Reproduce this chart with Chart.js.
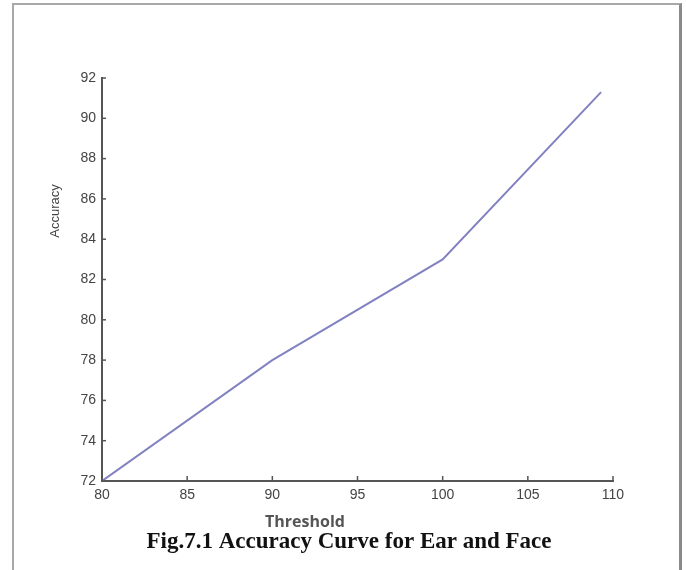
<!DOCTYPE html>
<html>
<head>
<meta charset="utf-8">
<script src="https://cdn.jsdelivr.net/npm/chart.js@4.4.0/dist/chart.umd.min.js"></script>
<style>
  html, body { margin: 0; padding: 0; background: #fff; }
  body { width: 686px; height: 570px; position: relative; overflow: hidden; }
  #frame {
    position: absolute; left: 12px; top: 3px; width: 665px; height: 580px;
    border-top: 2px solid #a8a8a8; border-left: 2px solid #a8a8a8; border-right: 3px solid #8a8a8a;
  }
  #wrap { position: absolute; left: 0; top: 0; width: 686px; height: 570px; }
</style>
</head>
<body>
<div id="frame"></div>
<div id="wrap"><canvas id="acc-chart" width="686" height="570"></canvas></div>
<script>
// threshold vs accuracy
var thresholds = [80, 90, 100, 109.3];
var accuracy = [72, 78, 83, 91.3];

var xTicks = [80, 85, 90, 95, 100, 105, 110];
var yTicks = [72, 74, 76, 78, 80, 82, 84, 86, 88, 90, 92];

var points = thresholds.map(function (t, i) {
  return { x: t, y: accuracy[i] };
});

var tickFont = { family: "'Liberation Sans Narrow', 'Liberation Sans', Arial", size: 14 };

// matlab style inward ticks + the loose text around the axes
var extras = {
  id: "extras",
  afterDraw: function (chart) {
    var c = chart.ctx;
    var xs = chart.scales.x;
    var ys = chart.scales.y;
    var area = chart.chartArea;
    c.save();
    c.strokeStyle = "#555";
    c.lineWidth = 1.5;
    xTicks.forEach(function (v) {
      var px = xs.getPixelForValue(v);
      c.beginPath();
      c.moveTo(px, area.bottom);
      c.lineTo(px, area.bottom - 5);
      c.stroke();
    });
    yTicks.forEach(function (v) {
      var py = ys.getPixelForValue(v);
      c.beginPath();
      c.moveTo(area.left, py);
      c.lineTo(area.left + 4, py);
      c.stroke();
    });

    c.fillStyle = "#444";
    c.font = "13px 'Liberation Sans', Arial";
    c.textAlign = "center";
    c.textBaseline = "middle";
    c.save();
    c.translate(55, 211);
    c.rotate(-Math.PI / 2);
    c.fillText("Accuracy", 0, 0);
    c.restore();

    c.fillStyle = "#555";
    c.font = "bold 16px 'Open Sans', 'Liberation Sans', Arial";
    c.fillText("Threshold", 305, 522);

    c.fillStyle = "#111";
    c.font = "bold 23px 'Liberation Serif', 'Times New Roman', serif";
    c.fillText("Fig.7.1 Accuracy Curve for Ear and Face", 349, 542);
    c.restore();
  }
};

var ctx = document.getElementById("acc-chart");

window.myChart = new Chart(ctx, {
  type: "line",
  data: {
    datasets: [
      {
        label: "Accuracy",
        data: points,
        borderColor: "#8282c2",
        backgroundColor: "#8282c2",
        borderWidth: 2,
        pointRadius: 0,
        tension: 0,
      },
    ],
  },
  options: {
    responsive: false,
    animation: false,
    layout: { padding: { left: 0, top: 78, right: 73, bottom: 0 } },
    plugins: {
      legend: { display: false },
      tooltip: { enabled: false },
    },
    scales: {
      x: {
        type: "linear",
        min: 80,
        max: 110,
        afterBuildTicks: function (scale) {
          scale.ticks = xTicks.map(function (v) { return { value: v }; });
        },
        afterFit: function (scale) { scale.height = 89; },
        grid: { display: false, drawTicks: false },
        border: { display: true, color: "#555", width: 2 },
        ticks: { color: "#444", font: tickFont, padding: 6, maxRotation: 0, autoSkip: false },
      },
      y: {
        min: 72,
        max: 92,
        afterBuildTicks: function (scale) {
          scale.ticks = yTicks.map(function (v) { return { value: v }; });
        },
        afterFit: function (scale) { scale.width = 102; },
        grid: { display: false, drawTicks: false },
        border: { display: true, color: "#555", width: 2 },
        ticks: { color: "#444", font: tickFont, padding: 6, autoSkip: false },
      },
    },
  },
  plugins: [extras],
});
</script>
</body>
</html>
